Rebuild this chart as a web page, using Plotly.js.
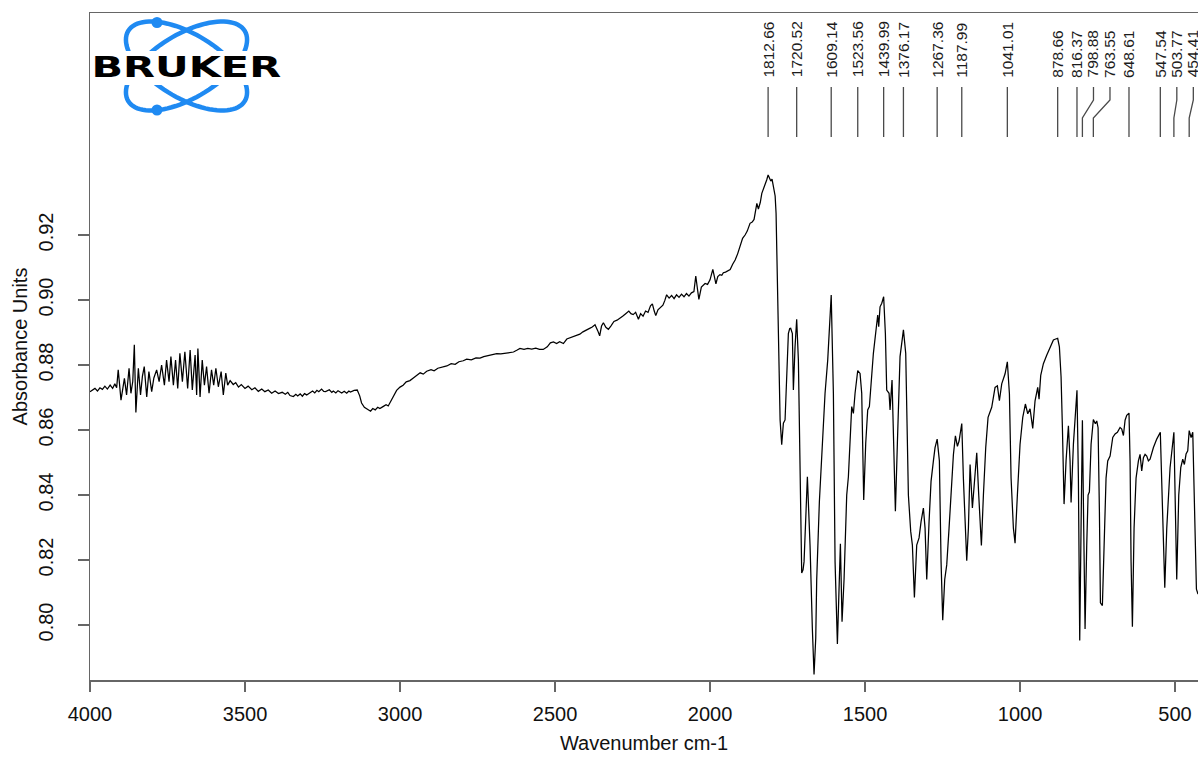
<!DOCTYPE html>
<html>
<head>
<meta charset="utf-8">
<script src="https://cdn.plot.ly/plotly-3.0.1.min.js"></script>
<style>
  html, body { margin: 0; padding: 0; background: #ffffff; }
  #chart { width: 1198px; height: 757px; }
</style>
</head>
<body>
<div id="chart"></div>
<script>
// IR absorbance spectrum, wavenumber in cm-1 (high to low)

// 4000-3380 cm-1: water vapour fringe region
const wavenumberHigh = [
  4000, 3992, 3984, 3976, 3968, 3960, 3952, 3944, 3935, 3927,
  3920, 3914, 3909, 3900, 3889, 3882, 3874, 3868, 3862, 3857,
  3852, 3844, 3837, 3831, 3825, 3817, 3810, 3801, 3794, 3785,
  3777, 3769, 3760, 3753, 3745, 3739, 3731, 3724, 3717, 3710,
  3702, 3694, 3685, 3677, 3670, 3661, 3656, 3652, 3645, 3638,
  3631, 3624, 3616, 3608, 3601, 3594, 3586, 3577, 3570, 3562,
  3556, 3548, 3538, 3530, 3521, 3512, 3500, 3490, 3478, 3468,
  3457, 3446, 3436, 3425, 3414, 3403, 3392, 3380
];
const absorbanceHigh = [
  0.8718, 0.8722, 0.8728, 0.8720, 0.8730, 0.8725, 0.8735, 0.8726, 0.8738, 0.8728,
  0.8742, 0.8730, 0.8785, 0.8692, 0.8759, 0.8708, 0.8790, 0.8713, 0.8750, 0.8862,
  0.8654, 0.8790, 0.8708, 0.8765, 0.8795, 0.8702, 0.8780, 0.8718, 0.8760, 0.8785,
  0.8749, 0.8800, 0.8738, 0.8815, 0.8749, 0.8826, 0.8738, 0.8815, 0.8728, 0.8836,
  0.8749, 0.8841, 0.8728, 0.8846, 0.8723, 0.8831, 0.8708, 0.8851, 0.8702, 0.8815,
  0.8738, 0.8795, 0.8713, 0.8785, 0.8738, 0.8790, 0.8733, 0.8780, 0.8708, 0.8775,
  0.8738, 0.8752, 0.8740, 0.8746, 0.8732, 0.8740, 0.8728, 0.8735, 0.8724, 0.8730,
  0.8719, 0.8726, 0.8718, 0.8723, 0.8713, 0.8720, 0.8712, 0.8716
];

// 3370-1871 cm-1: C-H dip and rising baseline
const wavenumberMid = [
  3370, 3362, 3355, 3344, 3336, 3330, 3322, 3315, 3308, 3301,
  3290, 3282, 3275, 3268, 3262, 3253, 3246, 3240, 3228, 3220,
  3215, 3207, 3200, 3188, 3180, 3172, 3165, 3160, 3148, 3138,
  3130, 3124, 3115, 3105, 3095, 3088, 3080, 3072, 3065, 3055,
  3045, 3038, 3032, 3022, 3011, 3000, 2990, 2980, 2968, 2957,
  2945, 2935, 2925, 2914, 2900, 2890, 2878, 2865, 2849, 2835,
  2822, 2810, 2796, 2785, 2770, 2755, 2742, 2730, 2715, 2700,
  2688, 2675, 2660, 2645, 2634, 2622, 2613, 2600, 2588, 2575,
  2562, 2550, 2538, 2525, 2515, 2505, 2495, 2485, 2473, 2462,
  2450, 2441, 2430, 2420, 2410, 2400, 2390, 2380, 2371, 2362,
  2356, 2350, 2344, 2336, 2328, 2320, 2310, 2300, 2290, 2282,
  2272, 2262, 2255, 2248, 2240, 2231, 2224, 2216, 2208, 2200,
  2192, 2186, 2180, 2175, 2168, 2160, 2152, 2146, 2140, 2132,
  2124, 2116, 2108, 2100, 2092, 2084, 2076, 2068, 2060, 2052,
  2046, 2040, 2036, 2028, 2016, 2008, 2000, 1991, 1985, 1981,
  1975, 1968, 1962, 1957, 1950, 1942, 1935, 1927, 1919, 1911,
  1903, 1895, 1887, 1880, 1871
];
const absorbanceMid = [
  0.8710, 0.8716, 0.8706, 0.8703, 0.8710, 0.8705, 0.8711, 0.8704, 0.8712, 0.8708,
  0.8714, 0.8720, 0.8714, 0.8722, 0.8718, 0.8726, 0.8719, 0.8718, 0.8724, 0.8716,
  0.8720, 0.8714, 0.8721, 0.8714, 0.8719, 0.8713, 0.8720, 0.8717, 0.8722, 0.8723,
  0.8705, 0.8683, 0.8670, 0.8664, 0.8658, 0.8666, 0.8662, 0.8670, 0.8666, 0.8672,
  0.8678, 0.8674, 0.8684, 0.8704, 0.8722, 0.8732, 0.8738, 0.8748, 0.8752, 0.8760,
  0.8768, 0.8776, 0.8772, 0.8781, 0.8786, 0.8782, 0.8790, 0.8794, 0.8797, 0.8804,
  0.8802, 0.8810, 0.8813, 0.8818, 0.8816, 0.8822, 0.8821, 0.8826, 0.8830, 0.8832,
  0.8835, 0.8834, 0.8836, 0.8838, 0.8840, 0.8846, 0.8851, 0.8848, 0.8851, 0.8849,
  0.8852, 0.8848, 0.8848, 0.8856, 0.8868, 0.8871, 0.8866, 0.8872, 0.8866, 0.8880,
  0.8884, 0.8888, 0.8893, 0.8895, 0.8902, 0.8906, 0.8912, 0.8917, 0.8924, 0.8905,
  0.8890, 0.8920, 0.8930, 0.8916, 0.8910, 0.8920, 0.8934, 0.8938, 0.8944, 0.8950,
  0.8958, 0.8966, 0.8958, 0.8955, 0.8962, 0.8941, 0.8958, 0.8950, 0.8966, 0.8962,
  0.8982, 0.8988, 0.8966, 0.8952, 0.8970, 0.8976, 0.8984, 0.8998, 0.9016, 0.9006,
  0.9014, 0.9004, 0.9016, 0.9008, 0.9018, 0.9010, 0.9020, 0.9012, 0.9022, 0.9026,
  0.9074, 0.9030, 0.9002, 0.9040, 0.9051, 0.9048, 0.9062, 0.9094, 0.9060, 0.9050,
  0.9072, 0.9078, 0.9076, 0.9084, 0.9086, 0.9090, 0.9094, 0.9110, 0.9123, 0.9142,
  0.9166, 0.9190, 0.9200, 0.9212, 0.9236
];

// 1864-426 cm-1: fingerprint region
const wavenumberLow = [
  1864, 1858, 1849, 1844, 1838, 1833, 1828, 1822.6, 1817, 1812.66,
  1808, 1804, 1800, 1795.7, 1790, 1787, 1783, 1778.5, 1774, 1768.8,
  1763.4, 1758, 1752.7, 1747.3, 1743, 1739.8, 1734.4, 1731.2, 1725.8, 1720.52,
  1715, 1709.6, 1704.3, 1700, 1696.7, 1686, 1677.4, 1670, 1664.5, 1659,
  1655.9, 1647.3, 1645, 1636.5, 1629, 1620.4, 1609.14, 1602.1, 1596.7, 1589.2,
  1583.8, 1579.5, 1574.2, 1567.7, 1559.1, 1553.7, 1543, 1537.6, 1532.2, 1523.56,
  1516.1, 1510.7, 1504.3, 1497.8, 1491.4, 1486, 1473.1, 1464.5, 1459.1, 1455.9,
  1451.6, 1446, 1439.99, 1434.4, 1430.1, 1422.5, 1419.3, 1412.9, 1408.6, 1402.1,
  1395.7, 1387.1, 1376.17, 1368.8, 1360.2, 1352.7, 1347.3, 1340.8, 1333.3, 1325.8,
  1319.3, 1311.8, 1306.4, 1301, 1293.5, 1287.1, 1279.5, 1274.2, 1267.36, 1260.2,
  1254.8, 1249.4, 1243, 1236.5, 1229, 1220.4, 1215, 1208.5, 1202.1, 1196.7,
  1187.99, 1182.8, 1177.4, 1172, 1166.6, 1161.2, 1153.7, 1147.2, 1139.7, 1133.3,
  1124.7, 1118.2, 1110.7, 1103.2, 1091.4, 1080.6, 1073.1, 1066.6, 1059.1, 1048.3,
  1041.01, 1034.3, 1029, 1021.5, 1016.1, 1008.6, 1000, 991.3, 982.8, 975.2,
  967.7, 959.1, 951.6, 943, 938.7, 933.3, 924.7, 914, 903.2, 892.4,
  885, 878.66, 873.1, 867.7, 863.4, 858, 851.6, 844, 838.7, 835.4,
  827.9, 820.4, 816.37, 811.8, 807.5, 803.2, 798.88, 794.6, 790.3, 784.9,
  780.6, 776.3, 770.9, 763.55, 757, 752.6, 748.3, 744, 740.8, 734.4,
  727.9, 722.6, 717.2, 709.6, 701, 693.5, 686, 677.4, 672, 666.6,
  661.2, 655.9, 648.61, 645.1, 641.9, 637.6, 632.2, 625.8, 618.2, 612.9,
  607.5, 602.1, 596.7, 591.3, 586, 580.6, 569.8, 559.1, 547.54, 542.9,
  537.6, 533.2, 526.8, 516.1, 503.77, 499.9, 494.6, 488.1, 481.6, 475.2,
  469.9, 464.5, 459.1, 454.41, 448.3, 442.9, 437.6, 431.1, 426
];
const absorbanceLow = [
  0.9240, 0.9248, 0.9297, 0.9280, 0.9300, 0.9328, 0.9340, 0.9359, 0.9370, 0.9385,
  0.9372, 0.9366, 0.9372, 0.9354, 0.9320, 0.9267, 0.9072, 0.8815, 0.8631, 0.8555,
  0.8621, 0.8631, 0.8795, 0.8897, 0.8912, 0.8913, 0.8897, 0.8723, 0.8856, 0.8941,
  0.8815, 0.8400, 0.8160, 0.8170, 0.8195, 0.8456, 0.8245, 0.7990, 0.7848, 0.7960,
  0.8140, 0.8380, 0.8420, 0.8569, 0.8713, 0.8815, 0.9015, 0.8713, 0.8195, 0.7942,
  0.8090, 0.8250, 0.8010, 0.8140, 0.8400, 0.8456, 0.8672, 0.8651, 0.8713, 0.8783,
  0.8774, 0.8713, 0.8385, 0.8559, 0.8662, 0.8672, 0.8836, 0.8908, 0.8954, 0.8918,
  0.8979, 0.8990, 0.9010, 0.8897, 0.8723, 0.8713, 0.8662, 0.8754, 0.8559, 0.8350,
  0.8559, 0.8826, 0.8908, 0.8836, 0.8400, 0.8288, 0.8246, 0.8085, 0.8246, 0.8268,
  0.8318, 0.8360, 0.8298, 0.8140, 0.8318, 0.8442, 0.8505, 0.8546, 0.8572, 0.8505,
  0.8195, 0.8015, 0.8140, 0.8185, 0.8298, 0.8432, 0.8524, 0.8582, 0.8550, 0.8566,
  0.8620, 0.8452, 0.8298, 0.8198, 0.8298, 0.8494, 0.8360, 0.8452, 0.8530, 0.8400,
  0.8245, 0.8400, 0.8546, 0.8639, 0.8670, 0.8731, 0.8736, 0.8690, 0.8742, 0.8773,
  0.8810, 0.8711, 0.8453, 0.8298, 0.8252, 0.8400, 0.8556, 0.8639, 0.8680, 0.8650,
  0.8665, 0.8605, 0.8690, 0.8731, 0.8695, 0.8768, 0.8804, 0.8830, 0.8851, 0.8877,
  0.8880, 0.8882, 0.8856, 0.8764, 0.8608, 0.8372, 0.8505, 0.8613, 0.8505, 0.8377,
  0.8556, 0.8690, 0.8722, 0.8450, 0.7952, 0.8300, 0.8630, 0.8296, 0.7988, 0.8245,
  0.8400, 0.8410, 0.8556, 0.8632, 0.8619, 0.8628, 0.8607, 0.8350, 0.8068, 0.8060,
  0.8298, 0.8452, 0.8505, 0.8520, 0.8577, 0.8588, 0.8593, 0.8608, 0.8603, 0.8583,
  0.8630, 0.8645, 0.8652, 0.8505, 0.8195, 0.7995, 0.8298, 0.8452, 0.8505, 0.8525,
  0.8474, 0.8515, 0.8525, 0.8520, 0.8505, 0.8510, 0.8546, 0.8572, 0.8593, 0.8453,
  0.8246, 0.8115, 0.8298, 0.8484, 0.8593, 0.8400, 0.8140, 0.8400, 0.8484, 0.8510,
  0.8494, 0.8526, 0.8536, 0.8598, 0.8577, 0.8593, 0.8400, 0.8110, 0.8095
];

// picked peak positions, cm-1
const peakPositions = [
  1812.66, 1720.52, 1609.14, 1523.56, 1439.99, 1376.17, 1267.36, 1187.99,
  1041.01, 878.66, 816.37, 798.88, 763.55, 648.61, 547.54, 503.77, 454.41
];

const xTickValues = [4000, 3500, 3000, 2500, 2000, 1500, 1000, 500];
const yTickValues = [0.80, 0.82, 0.84, 0.86, 0.88, 0.90, 0.92];

const wavenumber = wavenumberHigh.concat(wavenumberMid, wavenumberLow);
const absorbance = absorbanceHigh.concat(absorbanceMid, absorbanceLow);

// ---- frame geometry ----
const W = 1198, H = 757;
const margin = { l: 90, r: 0, t: 13, b: 77 };
const plotW = W - margin.l - margin.r;
const plotH = H - margin.t - margin.b;
const xRange = [4000, 426];
const yRange = [0.78308, 0.98831];
const paperX = px => (px - margin.l) / plotW;
const paperY = py => (margin.t + plotH - py) / plotH;
const pxPerWavenumber = plotW / (xRange[0] - xRange[1]);

const FONT = 'Liberation Sans, Arial, Helvetica, sans-serif';
const AXIS_GREY = '#666666';

// ---- peak labels: spread apart so neighbouring labels do not collide ----
const minLabelGap = 16.5 / pxPerWavenumber;
const labelPositions = [];
peakPositions.forEach((p, i) => {
  labelPositions.push(i === 0 ? p : Math.min(p, labelPositions[i - 1] - minLabelGap));
});

const tickTop = paperY(87), bendTop = paperY(100), bendBottom = paperY(118), tickBottom = paperY(137);

const shapes = [];
const annotations = [];

peakPositions.forEach((p, i) => {
  const lx = labelPositions[i];
  const path = (Math.abs(lx - p) < 1e-6)
    ? `M ${p},${tickTop} L ${p},${tickBottom}`
    : `M ${lx},${tickTop} L ${lx},${bendTop} L ${p},${bendBottom} L ${p},${tickBottom}`;
  shapes.push({
    type: 'path', xref: 'x', yref: 'paper', path: path,
    line: { color: '#4a4a4a', width: 1.3 }
  });
  annotations.push({
    x: lx, xref: 'x', y: paperY(77.5), yref: 'paper',
    xanchor: 'center', yanchor: 'bottom',
    text: p.toFixed(2), textangle: -90, showarrow: false,
    borderpad: 0, borderwidth: 0,
    font: { family: FONT, size: 15.5, color: '#1c1c1c' }
  });
});

// ---- company logo in the upper-left corner ----
const LOGO_BLUE = '#1f8af2';
function ellipsePath(cx, cy, a, b, deg) {
  const t = deg * Math.PI / 180;
  let d = '';
  for (let i = 0; i <= 90; i++) {
    const s = i / 90 * 2 * Math.PI;
    const ex = a * Math.cos(s), ey = b * Math.sin(s);
    const px = cx + ex * Math.cos(t) - ey * Math.sin(t);
    const py = cy + ex * Math.sin(t) + ey * Math.cos(t);
    d += (i ? ' L ' : 'M ') + paperX(px).toFixed(5) + ',' + paperY(py).toFixed(5);
  }
  return d + ' Z';
}
const logoCx = 186.5, logoCy = 66;
[31, -31].forEach(ang => {
  shapes.push({
    type: 'path', xref: 'paper', yref: 'paper',
    path: ellipsePath(logoCx, logoCy, 68, 32, ang),
    line: { color: LOGO_BLUE, width: 4.5 }
  });
});
// white band behind the word mark
shapes.push({
  type: 'rect', xref: 'paper', yref: 'paper',
  x0: paperX(93), x1: paperX(281), y0: paperY(85), y1: paperY(51),
  fillcolor: '#ffffff', line: { width: 0 }
});
[[157, 22.5], [157, 110]].forEach(([dx, dy]) => {
  const r = 5.5;
  shapes.push({
    type: 'circle', xref: 'paper', yref: 'paper',
    x0: paperX(dx - r), x1: paperX(dx + r), y0: paperY(dy + r), y1: paperY(dy - r),
    fillcolor: LOGO_BLUE, line: { color: LOGO_BLUE, width: 0 }
  });
});
annotations.push({
  x: paperX(186.5), xref: 'paper', y: paperY(67), yref: 'paper',
  xanchor: 'center', yanchor: 'middle', showarrow: false,
  text: 'BRUKER', borderpad: 0, borderwidth: 0,
  font: { family: 'DejaVu Sans, sans-serif', size: 29, weight: 'bold', color: '#000000' }
});

const trace = {
  type: 'scatter', mode: 'lines',
  x: wavenumber, y: absorbance,
  line: { color: '#000000', width: 1.25 },
  hoverinfo: 'skip', showlegend: false
};

const layout = {
  width: W, height: H,
  margin: margin,
  paper_bgcolor: '#ffffff', plot_bgcolor: '#ffffff',
  showlegend: false,
  font: { family: FONT, color: '#111111' },
  xaxis: {
    range: xRange, autorange: false,
    tickvals: xTickValues, ticktext: xTickValues.map(String),
    ticks: 'outside', ticklen: 10, tickwidth: 1.5, tickcolor: AXIS_GREY,
    showline: true, linecolor: AXIS_GREY, linewidth: 1.5, mirror: true,
    showgrid: false, zeroline: false,
    tickfont: { family: FONT, size: 20, color: '#111111' },
    ticklabelstandoff: 5,
    title: { text: 'Wavenumber cm-1', font: { family: FONT, size: 20, color: '#111111' }, standoff: 12 }
  },
  yaxis: {
    range: yRange, autorange: false,
    tickvals: yTickValues, ticktext: yTickValues.map(v => v.toFixed(2)),
    tickangle: -90,
    ticks: 'outside', ticklen: 11, tickwidth: 1.5, tickcolor: AXIS_GREY,
    showline: true, linecolor: AXIS_GREY, linewidth: 1.5, mirror: false,
    showgrid: false, zeroline: false,
    tickfont: { family: FONT, size: 20, color: '#111111' },
    ticklabelstandoff: 17,
    title: { text: 'Absorbance Units', font: { family: FONT, size: 20, color: '#111111' }, standoff: 1 }
  },
  shapes: shapes,
  annotations: annotations
};

Plotly.newPlot('chart', [trace], layout, { displayModeBar: false, staticPlot: true }).then(() => {
  // widen the word mark to the logo's extended letterforms
  document.querySelectorAll('#chart .annotation-text').forEach(el => {
    if (el.textContent === 'BRUKER') {
      el.style.transformBox = 'fill-box';
      el.style.transformOrigin = 'center';
      el.style.transform = 'scaleX(1.43)';
    }
  });
});
</script>
</body>
</html>
